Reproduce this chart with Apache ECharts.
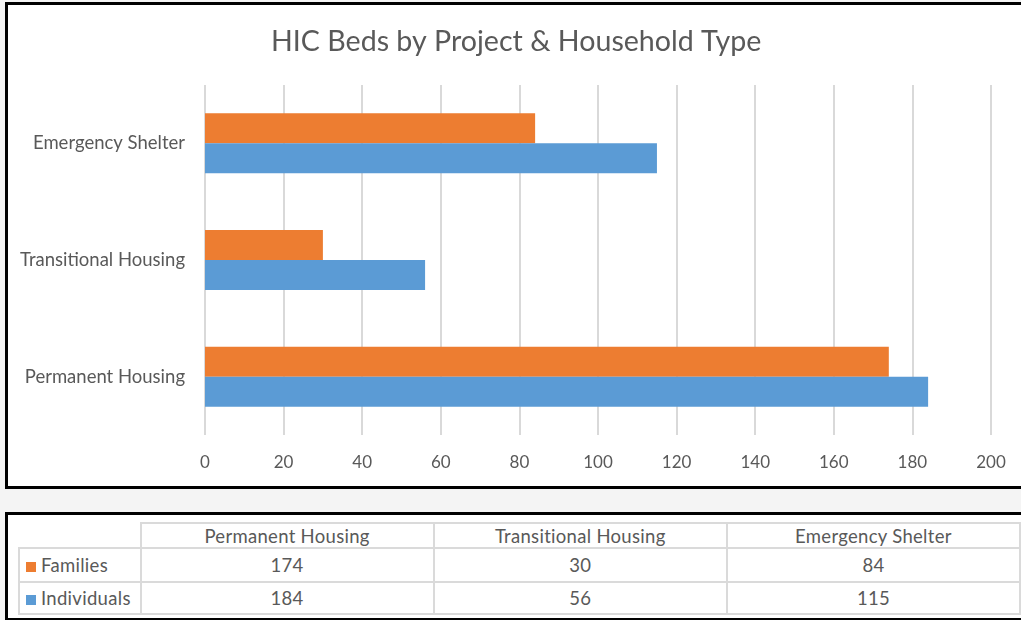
<!DOCTYPE html>
<html>
<head>
<meta charset="utf-8">
<script src="https://cdn.jsdelivr.net/npm/echarts@6/dist/echarts.min.js"></script>
<style>
  html, body { margin: 0; padding: 0; background: #f4f4f4; width: 1021px; height: 620px; overflow: hidden; font-family: Lato, "Open Sans", sans-serif; }
  #box { position: absolute; left: 5px; top: 2px; width: 1030px; height: 481px; border: 3px solid #000; background: #fff; }
  #chart { position: absolute; left: 0; top: 0; width: 1021px; height: 490px; }
  #tbox { position: absolute; left: 5px; top: 512px; width: 1030px; height: 103px; border: 3px solid #000; border-right: none; background: #fff; }
  #tbl { position: absolute; left: 18px; top: 522px; border-collapse: collapse; color: #595959; font-size: 18.5px; letter-spacing: 0.3px; }
  #tbl td { border: 2px solid #dadada; text-align: center; padding: 0; line-height: 20px; }
  #tbl td.key { text-align: left; padding-left: 6px; }
  #tbl td.blank { border-top: none; border-left: none; }
  .sw { display: inline-block; width: 10px; height: 10px; margin-right: 5px; vertical-align: 0px; }
</style>
</head>
<body>
<div id="box"></div>
<div id="tbox"></div>
<div id="chart"></div>
<table id="tbl"></table>
<script>
// data
const categories = ['Permanent Housing', 'Transitional Housing', 'Emergency Shelter'];
const families = [174, 30, 84];
const individuals = [184, 56, 115];
const seriesNames = ['Families', 'Individuals'];
const colors = ['#ED7D31', '#5B9BD5'];

const chart = echarts.init(document.getElementById('chart'));
chart.setOption({
  animation: false,
  backgroundColor: 'transparent',
  title: {
    text: 'HIC Beds by Project & Household Type',
    left: 266,
    top: 22,
    textStyle: { fontFamily: 'Lato', fontSize: 28.6, fontWeight: 'normal', color: '#595959' }
  },
  grid: { left: 205, right: 30, top: 85, bottom: 55 },
  xAxis: {
    type: 'value',
    min: 0,
    max: 200,
    interval: 20,
    axisLine: { show: false },
    axisTick: { show: false },
    splitLine: { lineStyle: { color: '#d9d9d9', width: 2 } },
    axisLabel: { color: '#595959', fontFamily: 'Lato', fontSize: 17, margin: 19 }
  },
  yAxis: {
    type: 'category',
    data: categories,
    axisLine: { show: false },
    axisTick: { show: false },
    axisLabel: { color: '#595959', fontFamily: 'Lato', fontSize: 18.5, margin: 20 }
  },
  series: [
    { name: seriesNames[0], type: 'bar', data: families, itemStyle: { color: colors[0] }, barGap: '0%', barCategoryGap: '48.6%' },
    { name: seriesNames[1], type: 'bar', data: individuals, itemStyle: { color: colors[1] }, barGap: '0%', barCategoryGap: '48.6%' }
  ]
});

// data table under the chart
const tbl = document.getElementById('tbl');
const colW = [121, 295, 295, 295];
let html = '<tr style="height:25px"><td class="blank" style="width:' + colW[0] + 'px"></td>';
categories.forEach((c, i) => { html += '<td style="width:' + colW[i + 1] + 'px">' + c + '</td>'; });
html += '</tr>';
[families, individuals].forEach((vals, r) => {
  html += '<tr style="height:' + (r === 0 ? 34 : 32) + 'px"><td class="key"><span class="sw" style="background:' + colors[r] + '"></span>' + seriesNames[r] + '</td>';
  vals.forEach(v => { html += '<td>' + v + '</td>'; });
  html += '</tr>';
});
tbl.innerHTML = html;
</script>
</body>
</html>
